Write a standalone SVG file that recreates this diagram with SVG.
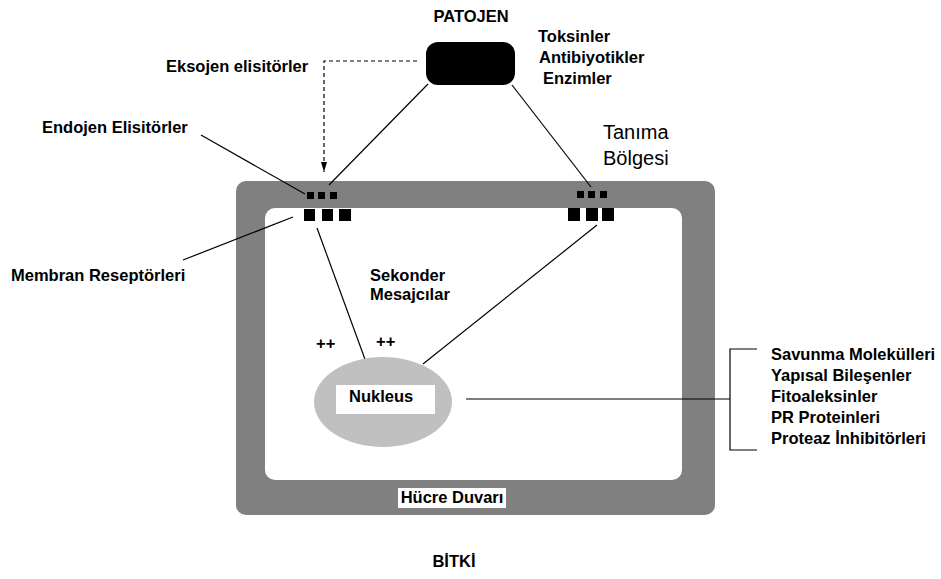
<svg xmlns="http://www.w3.org/2000/svg" width="941" height="579" viewBox="0 0 941 579">
<defs>
<style>
.t{font-family:"Liberation Sans",Arial,sans-serif;font-weight:bold;font-size:16.5px;fill:#000}
.tn{font-family:"Liberation Sans",Arial,sans-serif;font-weight:normal;font-size:20px;fill:#000}
.ln{stroke:#000;stroke-width:1.2;fill:none}
.dash{stroke:#000;stroke-width:1.2;fill:none;stroke-dasharray:4 3}
.rc{fill:#000}
</style>
<marker id="arr" viewBox="0 0 10 6" refX="10" refY="3" markerWidth="10" markerHeight="6" markerUnits="userSpaceOnUse" orient="auto">
<path d="M0,0 L10,3 L0,6 Z" fill="#000"/>
</marker>
</defs>
<rect width="941" height="579" fill="#fff"/>

<g id="cell-wall">
<rect x="236" y="181" width="479" height="334" rx="10" fill="#808080"/>
<rect x="265" y="208" width="417" height="272" rx="10" fill="#fff"/>
<rect x="398" y="488" width="108" height="20" fill="#fff"/>
<text class="t" x="452" y="503" text-anchor="middle" font-size="16">Hücre Duvarı</text>
</g>

<g id="connectors">
<polyline class="dash" points="417,61 324,61 324,172" marker-end="url(#arr)"/>
<line class="ln" x1="428" y1="84" x2="329" y2="185"/>
<line class="ln" x1="512" y1="85" x2="591" y2="187"/>
<line class="ln" x1="201" y1="135" x2="305" y2="194"/>
<line class="ln" x1="183" y1="260" x2="293" y2="217"/>
<line class="ln" x1="317" y1="228" x2="366" y2="362"/>
<line class="ln" x1="597" y1="225" x2="423" y2="364"/>
<line class="ln" x1="466" y1="399" x2="730" y2="399"/>
<polyline class="ln" points="757,349 730,349 730,450 757,450"/>
</g>

<g id="pathogen">
<rect x="426" y="42" width="89" height="43" rx="12" fill="#000"/>
<text class="t" x="471" y="22" text-anchor="middle">PATOJEN</text>
<text class="t" x="538" y="42">Toksinler</text>
<text class="t" x="539" y="63">Antibiyotikler</text>
<text class="t" x="543" y="84">Enzimler</text>
</g>

<g id="receptor-left">
<rect class="rc" x="307" y="192" width="7" height="7"/>
<rect class="rc" x="318" y="192" width="7" height="7"/>
<rect class="rc" x="330" y="192" width="7" height="7"/>
<rect class="rc" x="304" y="209" width="11" height="12"/>
<rect class="rc" x="322" y="209" width="11" height="12"/>
<rect class="rc" x="339" y="209" width="12" height="12"/>
</g>

<g id="receptor-right">
<rect class="rc" x="577" y="191" width="7" height="7"/>
<rect class="rc" x="588" y="191" width="7" height="7"/>
<rect class="rc" x="600" y="191" width="7" height="7"/>
<rect class="rc" x="568" y="208" width="12" height="13"/>
<rect class="rc" x="586" y="208" width="12" height="13"/>
<rect class="rc" x="602" y="208" width="12" height="13"/>
</g>

<g id="labels-left">
<text class="t" x="166" y="72">Eksojen elisitörler</text>
<text class="t" x="42" y="133">Endojen Elisitörler</text>
<text class="t" x="11" y="281">Membran Reseptörleri</text>
</g>

<g id="recognition">
<text class="tn" x="603" y="139">Tanıma</text>
<text class="tn" x="603" y="165">Bölgesi</text>
</g>

<g id="second-messengers">
<text class="t" x="370" y="281">Sekonder</text>
<text class="t" x="370" y="300">Mesajcılar</text>
<text class="t" x="316" y="349" font-size="13">++</text>
<text class="t" x="376" y="347" font-size="13">++</text>
</g>

<g id="nucleus">
<ellipse cx="383" cy="402" rx="69" ry="45" fill="#c0c0c0"/>
<rect x="336" y="385" width="99" height="29" fill="#fff"/>
<text class="t" x="349" y="402">Nukleus</text>
</g>

<g id="products">
<text class="t" x="771" y="360">Savunma Molekülleri</text>
<text class="t" x="771" y="381">Yapısal Bileşenler</text>
<text class="t" x="771" y="402">Fitoaleksinler</text>
<text class="t" x="771" y="423">PR Proteinleri</text>
<text class="t" x="771" y="444">Proteaz İnhibitörleri</text>
</g>

<g id="plant">
<text class="t" x="454" y="567" text-anchor="middle" font-size="18.5">BİTKİ</text>
</g>
</svg>
